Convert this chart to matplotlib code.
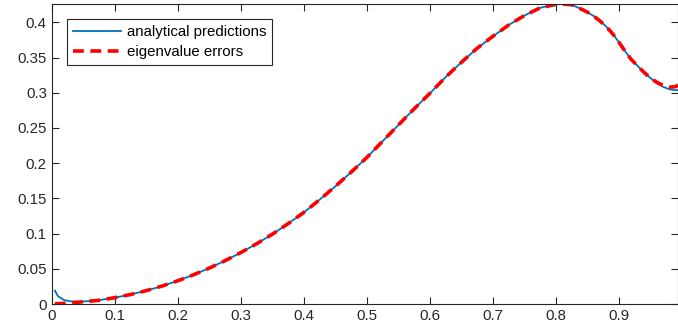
import matplotlib.pyplot as plt

plt.rcParams['font.family'] = ['Liberation Sans', 'DejaVu Sans']

# values
x_ana = [0.005, 0.01, 0.02, 0.03, 0.04, 0.05, 0.075, 0.1, 0.125, 0.15, 0.175, 0.2,
         0.225, 0.25, 0.275, 0.3, 0.325, 0.35, 0.375, 0.4, 0.425, 0.45, 0.475, 0.5,
         0.525, 0.55, 0.575, 0.6, 0.625, 0.65, 0.675, 0.7, 0.725, 0.75, 0.775, 0.8,
         0.81, 0.825, 0.84, 0.85, 0.86, 0.87, 0.88, 0.89, 0.9, 0.91, 0.92, 0.93,
         0.94, 0.95, 0.96, 0.97, 0.98, 0.99, 0.994]
y_ana = [0.019, 0.011, 0.0055, 0.0038, 0.0033, 0.0035, 0.0055, 0.009, 0.0135, 0.019,
         0.0255, 0.033, 0.0415, 0.051, 0.0615, 0.073, 0.0855, 0.099, 0.114, 0.130,
         0.148, 0.167, 0.187, 0.208, 0.231, 0.254, 0.277, 0.299, 0.322, 0.343, 0.363,
         0.380, 0.396, 0.4095, 0.4205, 0.4255, 0.426, 0.425, 0.419, 0.4145, 0.409,
         0.402, 0.394, 0.384, 0.372, 0.359, 0.347, 0.338, 0.329, 0.321, 0.314,
         0.3085, 0.305, 0.3035, 0.304]

x_eig = [0.005, 0.01, 0.02, 0.03, 0.04, 0.05, 0.075, 0.1, 0.125, 0.15, 0.175, 0.2,
         0.225, 0.25, 0.275, 0.3, 0.325, 0.35, 0.375, 0.4, 0.425, 0.45, 0.475, 0.5,
         0.525, 0.55, 0.575, 0.6, 0.625, 0.65, 0.675, 0.7, 0.725, 0.75, 0.775, 0.8,
         0.81, 0.825, 0.84, 0.85, 0.86, 0.87, 0.88, 0.89, 0.9, 0.91, 0.92, 0.93,
         0.94, 0.95, 0.96, 0.97, 0.98, 0.99, 0.994]
y_eig = [0.0003, 0.0005, 0.001, 0.0017, 0.0025, 0.0032, 0.0053, 0.009, 0.0135, 0.019,
         0.0255, 0.033, 0.0415, 0.051, 0.0615, 0.073, 0.0855, 0.099, 0.114, 0.130,
         0.148, 0.167, 0.187, 0.208, 0.231, 0.254, 0.277, 0.299, 0.322, 0.343, 0.363,
         0.380, 0.396, 0.4095, 0.4205, 0.4255, 0.426, 0.425, 0.419, 0.4145, 0.409,
         0.402, 0.394, 0.384, 0.372, 0.359, 0.347, 0.338, 0.329, 0.321, 0.315,
         0.3105, 0.308, 0.3085, 0.311]

xticks = [0, 0.1, 0.2, 0.3, 0.4, 0.5, 0.6, 0.7, 0.8, 0.9]
xlabels = ['0', '0.1', '0.2', '0.3', '0.4', '0.5', '0.6', '0.7', '0.8', '0.9']
yticks = [0, 0.05, 0.1, 0.15, 0.2, 0.25, 0.3, 0.35, 0.4]
ylabels = ['0', '0.05', '0.1', '0.15', '0.2', '0.25', '0.3', '0.35', '0.4']

axcol = '#262626'
fig = plt.figure(figsize=(6.78, 3.33), dpi=100)
ax = fig.add_axes([0.0763, 0.087, 0.9237, 0.901])

ax.plot(x_ana, y_ana, color='#0072BD', lw=1.3, label='analytical predictions')
ax.plot(x_eig, y_eig, color='r', lw=2.6, ls=(0, (3, 1.8)), label='eigenvalue errors')

ax.set_xlim(0, 0.994)
ax.set_ylim(0, 0.426)
ax.set_xticks(xticks)
ax.set_xticklabels(xlabels)
ax.set_yticks(yticks)
ax.set_yticklabels(ylabels)
ax.tick_params(direction='in', length=5, width=0.8, color=axcol, labelcolor=axcol,
               labelsize=10.8, top=True, right=True)
for s in ax.spines.values():
    s.set_color(axcol)
    s.set_linewidth(0.8)

leg = ax.legend(loc='upper left', bbox_to_anchor=(0.024, 0.95), borderaxespad=0,
                fontsize=10.8, handlelength=3.2, fancybox=False, framealpha=1,
                edgecolor=axcol, borderpad=0.4, labelspacing=0.4, handletextpad=0.4)
leg.get_frame().set_linewidth(0.8)

plt.savefig('out.png', dpi=100)
